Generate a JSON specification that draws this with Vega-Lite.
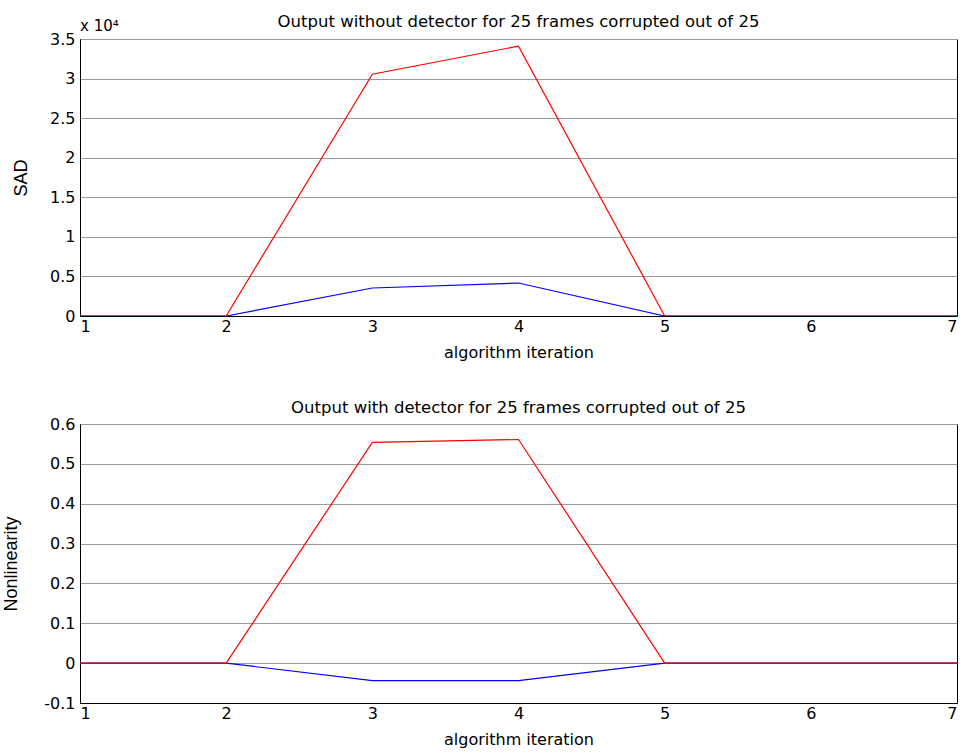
{
  "$schema": "https://vega.github.io/schema/vega-lite/v6.json",
  "padding": {"left": 1, "top": 13, "right": 0, "bottom": 0},
  "background": "white",
  "spacing": 38,
  "datasets": {
    "top": [
      {"iteration": 1, "series": "A", "value": 0},
      {"iteration": 2, "series": "A", "value": 0},
      {"iteration": 3, "series": "A", "value": 3540},
      {"iteration": 4, "series": "A", "value": 4170},
      {"iteration": 5, "series": "A", "value": 0},
      {"iteration": 6, "series": "A", "value": 0},
      {"iteration": 7, "series": "A", "value": 0},
      {"iteration": 1, "series": "B", "value": 0},
      {"iteration": 2, "series": "B", "value": 0},
      {"iteration": 3, "series": "B", "value": 30550},
      {"iteration": 4, "series": "B", "value": 34100},
      {"iteration": 5, "series": "B", "value": 0},
      {"iteration": 6, "series": "B", "value": 0},
      {"iteration": 7, "series": "B", "value": 0}
    ],
    "bottom": [
      {"iteration": 1, "series": "A", "value": 0},
      {"iteration": 2, "series": "A", "value": 0},
      {"iteration": 3, "series": "A", "value": -0.044},
      {"iteration": 4, "series": "A", "value": -0.044},
      {"iteration": 5, "series": "A", "value": 0},
      {"iteration": 6, "series": "A", "value": 0},
      {"iteration": 7, "series": "A", "value": 0},
      {"iteration": 1, "series": "B", "value": 0},
      {"iteration": 2, "series": "B", "value": 0},
      {"iteration": 3, "series": "B", "value": 0.554},
      {"iteration": 4, "series": "B", "value": 0.561},
      {"iteration": 5, "series": "B", "value": 0},
      {"iteration": 6, "series": "B", "value": 0},
      {"iteration": 7, "series": "B", "value": 0}
    ],
    "exponent": [
      {"iteration": 1, "value": 35000, "label": "x 10⁴"}
    ]
  },
  "config": {
    "font": "DejaVu Sans",
    "view": {"stroke": "black", "strokeWidth": 1},
    "title": {"font": "DejaVu Sans", "fontSize": 16.5, "fontWeight": "normal", "color": "black", "baseline": "alphabetic", "anchor": "middle"},
    "axis": {
      "domainColor": "black", "tickColor": "black", "labelColor": "black", "titleColor": "black",
      "labelFont": "DejaVu Sans", "labelFontSize": 16, "titleFont": "DejaVu Sans", "titleFontSize": 16, "titleFontWeight": "normal",
      "ticks": false, "gridColor": "#9a9a9a", "gridOpacity": 1, "gridWidth": 1
    }
  },
  "vconcat": [
    {
      "width": 877,
      "height": 277,
      "title": {"text": "Output without detector for 25 frames corrupted out of 25", "offset": -11},
      "layer": [
        {
          "data": {"name": "top"},
          "mark": {"type": "line", "strokeWidth": 1.2, "clip": true},
          "encoding": {
            "x": {"field": "iteration", "type": "quantitative", "scale": {"domain": [1, 7], "nice": false},
              "axis": {"title": "algorithm iteration", "values": [1, 2, 3, 4, 5, 6, 7], "format": "d", "grid": false, "labelPadding": 2, "titlePadding": 10}},
            "y": {"field": "value", "type": "quantitative", "scale": {"domain": [0, 35000], "nice": false},
              "axis": {"title": "SAD", "titleFont": "Liberation Sans", "titleFontSize": 18, "titleX": -50, "values": [0, 5000, 10000, 15000, 20000, 25000, 30000, 35000], "labelExpr": "datum.value / 10000 + ''", "grid": true, "labelPadding": 5}},
            "color": {"field": "series", "type": "nominal", "scale": {"domain": ["A", "B"], "range": ["#0000ff", "#ff0000"]}, "legend": null}
          }
        },
        {
          "data": {"name": "exponent"},
          "mark": {"type": "text", "align": "left", "baseline": "alphabetic", "dy": -8, "fontSize": 15, "font": "DejaVu Sans", "color": "black"},
          "encoding": {
            "x": {"field": "iteration", "type": "quantitative", "scale": {"domain": [1, 7], "nice": false},
              "axis": {"title": "algorithm iteration", "values": [1, 2, 3, 4, 5, 6, 7], "format": "d", "grid": false, "labelPadding": 2, "titlePadding": 10}},
            "y": {"field": "value", "type": "quantitative", "scale": {"domain": [0, 35000], "nice": false},
              "axis": {"title": "SAD", "titleFont": "Liberation Sans", "titleFontSize": 18, "titleX": -50, "values": [0, 5000, 10000, 15000, 20000, 25000, 30000, 35000], "labelExpr": "datum.value / 10000 + ''", "grid": true, "labelPadding": 5}},
            "text": {"field": "label", "type": "nominal"}
          }
        }
      ]
    },
    {
      "width": 877,
      "height": 279,
      "title": {"text": "Output with detector for 25 frames corrupted out of 25", "offset": 0},
      "data": {"name": "bottom"},
      "mark": {"type": "line", "strokeWidth": 1.2, "clip": true},
      "encoding": {
        "x": {"field": "iteration", "type": "quantitative", "scale": {"domain": [1, 7], "nice": false},
          "axis": {"title": "algorithm iteration", "values": [1, 2, 3, 4, 5, 6, 7], "format": "d", "grid": false, "labelPadding": 2, "titlePadding": 10}},
        "y": {"field": "value", "type": "quantitative", "scale": {"domain": [-0.1, 0.6], "nice": false},
          "axis": {"title": "Nonlinearity", "titleFont": "Liberation Sans", "titleFontSize": 18, "titleX": -60, "values": [-0.1, 0, 0.1, 0.2, 0.3, 0.4, 0.5, 0.6], "labelExpr": "replace(format(datum.value, '~g'), '−', '-')", "grid": true, "labelPadding": 5}},
        "color": {"field": "series", "type": "nominal", "scale": {"domain": ["A", "B"], "range": ["#0000ff", "#ff0000"]}, "legend": null}
      }
    }
  ]
}
